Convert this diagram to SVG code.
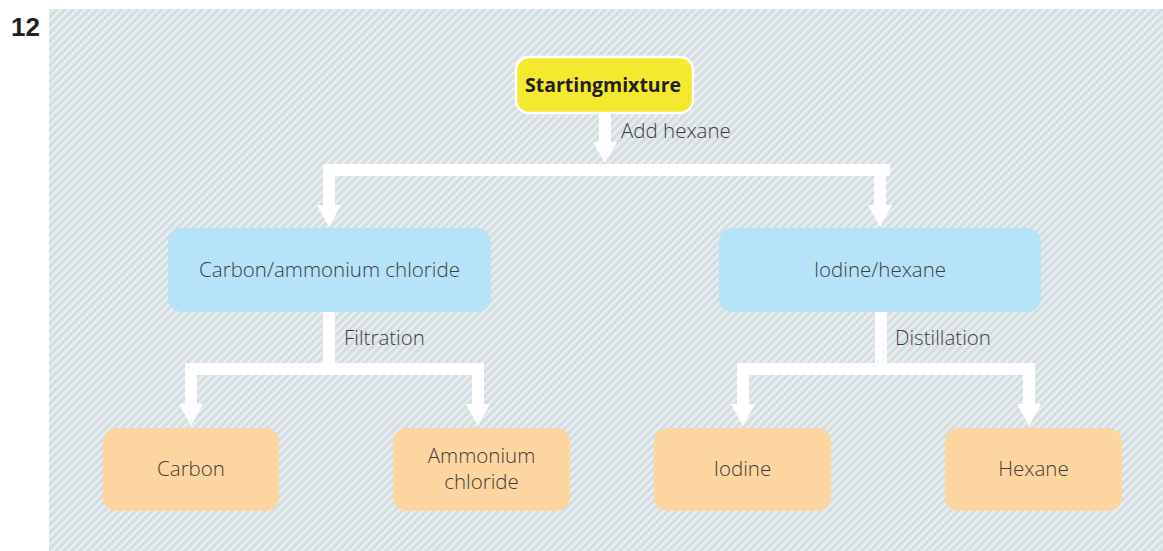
<svg xmlns="http://www.w3.org/2000/svg" width="1163" height="551" viewBox="0 0 1163 551">
<defs>
<pattern id="hatch" width="5.7" height="5.7" patternUnits="userSpaceOnUse" patternTransform="rotate(45)">
<rect width="5.7" height="5.7" fill="#e6edf0"/>
<rect width="2.8" height="5.7" fill="#d4dce0"/>
</pattern>
<style>
.lbl{font-family:"Open Sans","Noto Sans",sans-serif;font-weight:300;font-size:20.5px;fill:#3d3d3d;text-anchor:middle}
.elbl{font-family:"Open Sans","Noto Sans",sans-serif;font-weight:300;font-size:20.5px;fill:#3d3d3d}
.blue{fill:#b6e3f8}
.orange{fill:#fdd5a0}
.conn{fill:#ffffff}
</style>
</defs>
<rect width="1163" height="551" fill="#ffffff"/>
<rect x="49" y="9" width="1114" height="542" fill="url(#hatch)"/>
<text x="11" y="36" font-family="Liberation Sans, Arial, sans-serif" font-weight="bold" font-size="26" fill="#231f20">12</text>
<g id="connectors" class="conn">
<rect x="599" y="113" width="12" height="30"/>
<polygon points="593,142 617,142 605,163"/>
<rect x="323" y="164" width="567" height="12"/>
<rect x="323" y="164" width="12" height="42"/>
<polygon points="317,205 341,205 329,227"/>
<rect x="874" y="164" width="12" height="42"/>
<polygon points="868,205 892,205 880,227"/>
<rect x="323" y="312" width="12" height="58"/>
<rect x="185" y="363" width="299" height="12"/>
<rect x="185" y="363" width="12" height="42"/>
<polygon points="179,404 203,404 191,426"/>
<rect x="472" y="363" width="12" height="42"/>
<polygon points="466,404 490,404 478,426"/>
<rect x="875" y="312" width="12" height="58"/>
<rect x="737" y="363" width="298" height="12"/>
<rect x="737" y="363" width="12" height="42"/>
<polygon points="731,404 755,404 743,426"/>
<rect x="1023" y="363" width="12" height="42"/>
<polygon points="1017,404 1041,404 1029,426"/>
<text class="elbl" x="621" y="138">Add hexane</text>
<text class="elbl" x="344" y="345">Filtration</text>
<text class="elbl" x="895" y="345">Distillation</text>
</g>
<g id="start">
<rect x="516" y="57" width="177" height="56" rx="13" fill="#f3e92e" stroke="#ffffff" stroke-width="2.5"/>
<text x="603" y="92" text-anchor="middle" font-family="Open Sans, Noto Sans, sans-serif" font-weight="bold" font-size="19.5" fill="#231f20">Startingmixture</text>
</g>
<g id="carbon-ammonium">
<rect class="blue" x="168" y="228" width="323" height="84" rx="14"/>
<text class="lbl" x="329.5" y="277">Carbon/ammonium chloride</text>
</g>
<g id="iodine-hexane">
<rect class="blue" x="719" y="228" width="322" height="84" rx="14"/>
<text class="lbl" x="880" y="277">Iodine/hexane</text>
</g>
<g id="carbon">
<rect class="orange" x="103" y="428" width="176" height="83" rx="14"/>
<text class="lbl" x="191" y="476">Carbon</text>
</g>
<g id="ammonium-chloride">
<rect class="orange" x="393" y="428" width="177" height="83" rx="14"/>
<text class="lbl" x="481.5" y="463">Ammonium</text>
<text class="lbl" x="481.5" y="489">chloride</text>
</g>
<g id="iodine">
<rect class="orange" x="654" y="428" width="177" height="83" rx="14"/>
<text class="lbl" x="742.5" y="476">Iodine</text>
</g>
<g id="hexane">
<rect class="orange" x="945" y="428" width="177" height="83" rx="14"/>
<text class="lbl" x="1033.5" y="476">Hexane</text>
</g>
</svg>
